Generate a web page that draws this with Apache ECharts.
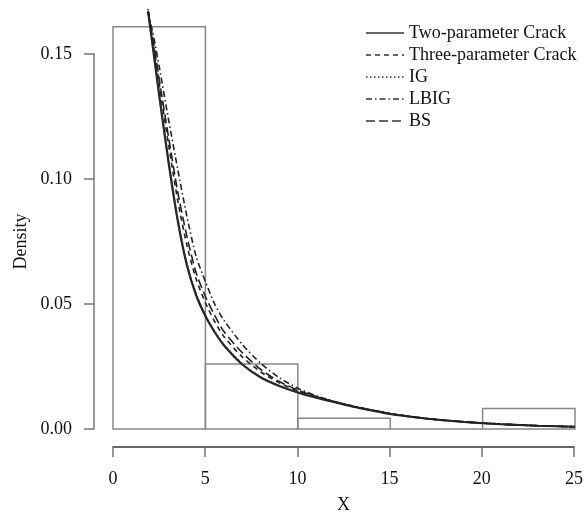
<!DOCTYPE html>
<html>
<head>
<meta charset="utf-8">
<script src="https://cdn.jsdelivr.net/npm/echarts@6/dist/echarts.min.js"></script>
<style>html,body{margin:0;padding:0;background:#fff}#c{width:586px;height:515px}</style>
</head>
<body>
<div id="c"></div>
<script>
// histogram bins (start, end) and densities
var binStart = [0, 5, 10, 15, 20];
var binEnd = [5, 10, 15, 20, 25];
var binDensity = [0.1609, 0.026, 0.0043, 0.0, 0.0082];

// x grid for fitted density curves
var xs = [1.9,2.25,2.5,3,3.5,4,4.5,5,5.5,6,7,8,9,10,11,12,13,14,15,16,17,18,19,20,21,22,23,24,25];
var twoParam = [0.167,0.1475,0.1335,0.107,0.0835,0.0655,0.0535,0.0452,0.0388,0.0335,0.0258,0.0206,0.0172,0.0146,0.0125,0.0107,0.0089,0.0074,0.006,0.005,0.0041,0.0034,0.0028,0.0023,0.0019,0.0016,0.0013,0.0011,0.0009];
var threeParam = [0.167,0.1505,0.138,0.114,0.0915,0.0735,0.060,0.0505,0.043,0.037,0.0288,0.0228,0.0185,0.0153,0.0128,0.0108,0.0090,0.0075,0.0061,0.0050,0.0041,0.0034,0.0028,0.0023,0.0019,0.0016,0.0013,0.0011,0.0009];
var igVals = [0.168,0.148,0.134,0.1075,0.084,0.066,0.054,0.0455,0.039,0.0338,0.026,0.0208,0.0173,0.0147,0.0126,0.0108,0.009,0.0075,0.0061,0.0051,0.0042,0.0035,0.0029,0.0024,0.002,0.0016,0.0013,0.0011,0.0009];
var lbigVals = [0.167,0.155,0.145,0.124,0.104,0.085,0.069,0.059,0.050,0.0435,0.0338,0.0262,0.0205,0.0163,0.0133,0.011,0.0092,0.0076,0.0062,0.0051,0.0042,0.0035,0.0029,0.0024,0.002,0.0016,0.0013,0.0011,0.0009];
var bsVals = [0.167,0.152,0.140,0.117,0.095,0.077,0.0625,0.053,0.0455,0.039,0.0305,0.0238,0.019,0.0156,0.0130,0.0109,0.0091,0.0076,0.0062,0.0051,0.0042,0.0035,0.0029,0.0024,0.0019,0.0016,0.0013,0.0011,0.0009];

var seriesNames = ['Two-parameter Crack', 'Three-parameter Crack', 'IG', 'LBIG', 'BS'];

function pairs(ys) { return xs.map(function (x, i) { return [x, ys[i]]; }); }

var FONT = '"Liberation Serif", "DejaVu Serif", serif';
var chart = echarts.init(document.getElementById('c'), null, {renderer: 'canvas'});

function lineSeries(name, ys, type, width, color) {
  return {
    name: name, type: 'line', data: pairs(ys), showSymbol: false, symbol: 'none',
    smooth: 0.25, clip: false, z: 3, xAxisIndex: 0, yAxisIndex: 0,
    lineStyle: {color: color, width: width, type: type},
    itemStyle: {color: color}
  };
}

var hidden = {show: false};
var txt = {fontSize: 18, color: '#111', fontFamily: FONT};

chart.setOption({
  animation: false,
  backgroundColor: '#fff',
  textStyle: {fontFamily: FONT},
  grid: [
    {left: 113, right: 11, top: 54, bottom: 86},          // data region
    {left: 113, right: 11, bottom: 68, height: 10},       // x axis (offset R-style)
    {left: 94, width: 10, top: 54, bottom: 86}            // y axis (offset R-style)
  ],
  legend: {
    orient: 'vertical', left: 365, top: 24, padding: 0, itemWidth: 38, itemHeight: 12, itemGap: 4,
    itemStyle: {opacity: 0},
    lineStyle: {color: '#666'},
    textStyle: {fontFamily: FONT, fontSize: 18, color: '#111', lineHeight: 17},
    data: seriesNames
  },
  xAxis: [
    {gridIndex: 0, type: 'value', min: 0, max: 25, interval: 5,
     axisLine: hidden, axisTick: hidden, axisLabel: hidden, splitLine: hidden},
    {gridIndex: 1, type: 'value', min: 0, max: 25, interval: 5, position: 'bottom',
     axisLine: {show: true, lineStyle: {color: '#333', width: 1.5}},
     axisTick: {show: true, length: 10, inside: false, lineStyle: {color: '#777', width: 1.5}},
     axisLabel: Object.assign({margin: 23}, txt),
     splitLine: hidden,
     name: 'X', nameLocation: 'middle', nameGap: 49, nameTextStyle: txt},
    {gridIndex: 2, type: 'value', min: 0, max: 1, show: false}
  ],
  yAxis: [
    {gridIndex: 0, type: 'value', min: 0, max: 0.15, interval: 0.05,
     axisLine: hidden, axisTick: hidden, axisLabel: hidden, splitLine: hidden},
    {gridIndex: 1, type: 'value', min: 0, max: 1, show: false},
    {gridIndex: 2, type: 'value', min: 0, max: 0.15, interval: 0.05, position: 'left',
     axisLine: {show: true, lineStyle: {color: '#777', width: 1.5}},
     axisTick: {show: true, length: 10, inside: false, lineStyle: {color: '#777', width: 1.5}},
     axisLabel: Object.assign({margin: 22, formatter: function (v) { return v.toFixed(2); }}, txt),
     splitLine: hidden,
     name: 'Density', nameLocation: 'middle', nameGap: 64, nameRotate: 90, nameTextStyle: txt}
  ],
  series: [
    {
      name: 'hist', type: 'custom', clip: false, z: 1, silent: true, xAxisIndex: 0, yAxisIndex: 0,
      data: binStart.map(function (s, i) { return [s, binEnd[i], binDensity[i]]; }),
      renderItem: function (params, api) {
        var p0 = api.coord([api.value(0), 0]);
        var p1 = api.coord([api.value(1), api.value(2)]);
        return {
          type: 'rect',
          shape: {x: p0[0], y: p1[1], width: p1[0] - p0[0], height: p0[1] - p1[1]},
          style: {fill: 'none', stroke: '#888', lineWidth: 1.5}
        };
      }
    },
    lineSeries('Two-parameter Crack', twoParam, 'solid', 2.2, '#222'),
    lineSeries('Three-parameter Crack', threeParam, [5, 4], 1.6, '#222'),
    lineSeries('IG', igVals, [1.5, 2.5], 1.8, '#333'),
    lineSeries('LBIG', lbigVals, [6, 3, 1.5, 3], 1.6, '#222'),
    lineSeries('BS', bsVals, [9, 4], 1.6, '#222')
  ]
});
</script>
</body>
</html>
